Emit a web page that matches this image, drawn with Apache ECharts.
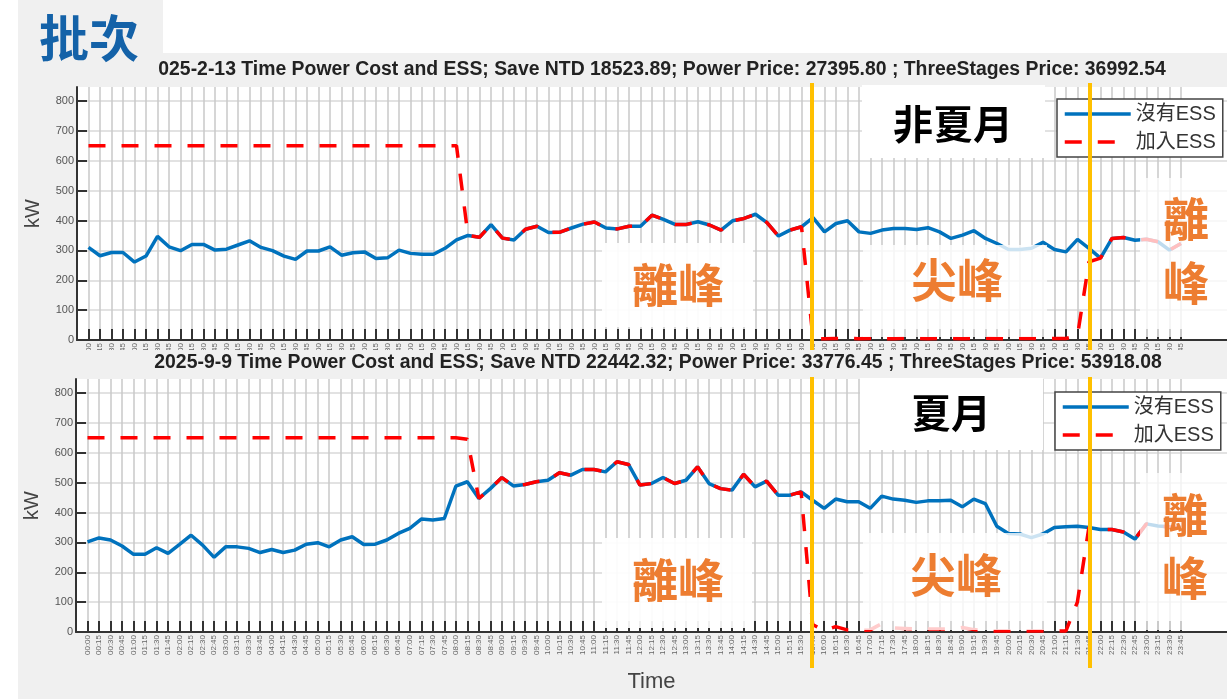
<!doctype html>
<html>
<head>
<meta charset="utf-8"/>
<title>ESS time power cost</title>
<script src="https://cdn.jsdelivr.net/npm/echarts@6.0.0/dist/echarts.min.js"></script>
<style>
*{margin:0;padding:0;}
body{background:#ffffff;}
#main{width:1227px;height:699px;}
</style>
</head>
<body>
<div id="main"></div>
<script>
// 15-minute time slots
var times = [
  '00:00','00:15','00:30','00:45','01:00','01:15','01:30','01:45','02:00','02:15','02:30','02:45',
  '03:00','03:15','03:30','03:45','04:00','04:15','04:30','04:45','05:00','05:15','05:30','05:45',
  '06:00','06:15','06:30','06:45','07:00','07:15','07:30','07:45','08:00','08:15','08:30','08:45',
  '09:00','09:15','09:30','09:45','10:00','10:15','10:30','10:45','11:00','11:15','11:30','11:45',
  '12:00','12:15','12:30','12:45','13:00','13:15','13:30','13:45','14:00','14:15','14:30','14:45',
  '15:00','15:15','15:30','15:45','16:00','16:15','16:30','16:45','17:00','17:15','17:30','17:45',
  '18:00','18:15','18:30','18:45','19:00','19:15','19:30','19:45','20:00','20:15','20:30','20:45',
  '21:00','21:15','21:30','21:45','22:00','22:15','22:30','22:45','23:00','23:15','23:30','23:45'
];

// 2025-2-13 (non-summer)
var noEssFeb = [
  310,282,293,293,261,281,347,312,299,320,
  320,301,304,318,332,310,299,281,270,298,
  298,312,284,292,295,273,275,301,290,287,
  287,307,335,350,344,386,341,335,371,381,
  360,361,375,388,395,375,372,381,381,418,
  404,387,387,396,385,368,399,407,421,393,
  348,368,379,410,362,390,399,362,357,368,
  373,373,370,376,362,340,351,366,340,323,
  303,303,307,327,303,295,337,307,274,340,
  343,334,337,329,301,323
];
var withEssFeb = [
  650,650,650,650,650,650,650,650,650,650,
  650,650,650,650,650,650,650,650,650,650,
  650,650,650,650,650,650,650,650,650,650,
  650,650,650,350,344,386,341,335,371,381,
  360,361,375,388,395,375,372,381,381,418,
  404,387,387,396,385,368,399,407,421,393,
  348,368,379,5,4,5,6,4,5,5,
  4,6,5,4,5,5,4,5,6,5,
  4,5,5,4,5,5,15,262,274,340,
  343,334,337,329,301,323
];

// 2025-9-9 (summer)
var noEssSep = [
  302,315,308,288,260,260,282,263,293,324,
  291,250,285,285,280,266,276,266,274,294,
  299,285,308,319,293,294,308,330,347,378,
  375,380,488,503,447,480,517,489,494,503,
  508,533,525,544,544,536,570,561,492,497,
  517,497,508,553,497,480,475,528,486,505,
  458,458,469,441,414,445,436,436,414,455,
  445,441,434,439,439,441,419,445,430,354,
  330,328,316,328,350,352,354,350,343,343,
  335,311,362,355,352,350
];
var withEssSep = [
  650,650,650,650,650,650,650,650,650,650,
  650,650,650,650,650,650,650,650,650,650,
  650,650,650,650,650,650,650,650,650,650,
  650,650,650,645,447,480,517,489,494,503,
  508,533,525,544,544,536,570,561,492,497,
  517,497,508,553,497,480,475,528,486,505,
  458,458,469,25,5,18,7,5,7,28,
  14,12,10,10,10,10,15,8,5,3,
  3,3,3,3,3,3,100,350,343,343,
  335,311,362,355,352,350
];

var yTicks = [0,100,200,300,400,500,600,700,800];

var titleFeb = '025-2-13 Time Power Cost and ESS; Save NTD 18523.89; Power Price: 27395.80 ; ThreeStages Price: 36992.54';
var titleSep = '2025-9-9 Time Power Cost and ESS; Save NTD 22442.32; Power Price: 33776.45 ; ThreeStages Price: 53918.08';

var FONT = '"Liberation Sans", Arial, "Noto Sans CJK TC", sans-serif';
var CJK = '"Noto Sans CJK TC", "Noto Sans CJK SC", sans-serif';

// pad so that slot 1 sits one step right of the y axis (matlab style)
var xCats = ['p0'].concat(times, ['p97', 'p98', 'p99', 'p100']);
function isSlot(idx) { return idx >= 1 && idx <= times.length; }
function pad(arr) { return [null].concat(arr); }

function makeX(gi, withName) {
  var ax = {
    type: 'category', gridIndex: gi, data: xCats, boundaryGap: false,
    axisLine: {lineStyle: {color: '#333', width: 2}},
    axisTick: {inside: true, length: 11, interval: isSlot, lineStyle: {color: '#333', width: 2}},
    axisLabel: {
      interval: 0, rotate: 90, fontSize: 8, color: '#666', margin: 3, fontFamily: FONT,
      formatter: function (v, i) { return isSlot(i) ? v : ''; }
    },
    splitLine: {show: true, interval: isSlot, lineStyle: {color: '#c9c9c9', width: 1.5}}
  };
  if (withName) {
    ax.name = 'Time';
    ax.nameLocation = 'middle';
    ax.nameGap = 39;
    ax.nameTextStyle = {fontSize: 22, color: '#444', fontFamily: FONT};
  }
  return ax;
}

function makeY(gi) {
  return {
    type: 'value', gridIndex: gi, min: 0, max: 847, interval: 100,
    name: 'kW', nameLocation: 'middle', nameGap: 34, nameRotate: 90,
    nameTextStyle: {fontSize: 20, color: '#444', fontFamily: FONT},
    axisLine: {show: true, lineStyle: {color: '#333', width: 2}},
    axisTick: {show: true, inside: true, length: 10, customValues: yTicks, lineStyle: {color: '#333', width: 2}},
    axisLabel: {fontSize: 11, color: '#555', margin: 3, fontFamily: FONT, customValues: yTicks},
    splitLine: {show: true, lineStyle: {color: '#d9d9d9', width: 1.5}}
  };
}

function lineSeries(name, gi, arr, color, dashed) {
  return {
    name: name, type: 'line', xAxisIndex: gi, yAxisIndex: gi,
    data: pad(arr), symbol: 'none', animation: false,
    itemStyle: {color: color},
    lineStyle: {color: color, width: 3.5, type: dashed ? [17, 16] : 'solid'},
    z: dashed ? 3 : 2
  };
}

function legendAt(left, top) {
  return {
    left: left, top: top, orient: 'vertical', selectedMode: false,
    data: ['沒有ESS', '加入ESS'],
    itemWidth: 66, itemHeight: 14, itemGap: 8,
    itemStyle: {opacity: 0},
    lineStyle: {width: 3.5},
    backgroundColor: '#ffffff', borderColor: '#444', borderWidth: 1.5, borderRadius: 0,
    padding: [5, 7, 5, 6],
    textStyle: {fontSize: 20, color: '#333', fontFamily: FONT}
  };
}

function box(x, y, w, h, op) {
  return {type: 'rect', z: 100, shape: {x: x, y: y, width: w, height: h},
          style: {fill: 'rgba(255,255,255,' + op + ')'}};
}
function label(txt, x, y, size, color) {
  return {type: 'text', z: 101, x: x, y: y,
          style: {text: txt, fill: color, font: 'bold ' + size + 'px ' + CJK,
                  align: 'center', verticalAlign: 'middle', textAlign: 'center', textVerticalAlign: 'middle'}};
}
function title(txt, x, y) {
  return {type: 'text', z: 101, x: x, y: y,
          style: {text: txt, fill: '#222', font: 'bold 19.4px ' + FONT,
                  align: 'center', verticalAlign: 'middle', textAlign: 'center', textVerticalAlign: 'middle'}};
}
function vline(x, y1, y2) {
  return {type: 'line', z: 120, shape: {x1: x, y1: y1, x2: x, y2: y2},
          style: {stroke: '#FFC000', lineWidth: 4}};
}

var ORANGE = '#ED7D31';

var chartDom = document.getElementById('main');
var myChart = echarts.init(chartDom);
var option = {
  backgroundColor: '#f0f0f0',
  animation: false,
  grid: [
    {left: 77, top: 87, width: 1168, height: 253, show: true, backgroundColor: '#ffffff', borderWidth: 0},
    {left: 76, top: 379, width: 1168, height: 253, show: true, backgroundColor: '#ffffff', borderWidth: 0}
  ],
  xAxis: [makeX(0, false), makeX(1, true)],
  yAxis: [makeY(0), makeY(1)],
  legend: [legendAt(1057, 99), legendAt(1055, 392)],
  series: [
    lineSeries('沒有ESS', 0, noEssFeb, '#0072BD', false),
    lineSeries('加入ESS', 0, withEssFeb, '#FF0000', true),
    lineSeries('沒有ESS', 1, noEssSep, '#0072BD', false),
    lineSeries('加入ESS', 1, withEssSep, '#FF0000', true)
  ],
  graphic: {elements: [
    // slide background around the figures
    {type: 'rect', z: 90, shape: {x: 163, y: 0, width: 1064, height: 53}, style: {fill: '#ffffff'}},
    {type: 'rect', z: 90, shape: {x: 0, y: 0, width: 18, height: 699}, style: {fill: '#ffffff'}},
    // second figure overlaps the tick labels of the first
    {type: 'rect', z: 90, shape: {x: 18, y: 350, width: 1209, height: 28}, style: {fill: '#f0f0f0'}},
    {type: 'text', z: 101, x: 39, y: 38,
     style: {text: '批次', fill: '#1462A8', font: 'bold 50px ' + CJK, verticalAlign: 'middle', textVerticalAlign: 'middle'}},
    title(titleFeb, 662, 70),
    title(titleSep, 658, 363),

    // non-summer panel annotations
    box(862, 85, 183, 73, 1),
    label('非夏月', 953, 124, 40, '#000'),
    box(602, 243, 151, 84, 0.92),
    label('離峰', 678, 285, 46, ORANGE),
    box(863, 245, 184, 92, 0.8),
    label('尖峰', 957, 280, 46, ORANGE),
    box(1140, 178, 87, 159, 0.75),
    label('離', 1186, 219, 46, ORANGE),
    label('峰', 1186, 283, 46, ORANGE),

    // summer panel annotations
    box(860, 378, 183, 72, 1),
    label('夏月', 951, 413, 40, '#000'),
    box(602, 538, 150, 90, 0.92),
    label('離峰', 678, 580, 46, ORANGE),
    box(863, 533, 184, 97, 0.8),
    label('尖峰', 956, 575, 46, ORANGE),
    box(1140, 473, 87, 157, 0.75),
    label('離', 1185, 515, 46, ORANGE),
    label('峰', 1185, 578, 46, ORANGE),

    // tariff period boundaries
    vline(812, 83, 350),
    vline(1090, 83, 350),
    vline(812, 377, 668),
    vline(1090, 377, 668)
  ]}
};
myChart.setOption(option);
</script>
</body>
</html>
